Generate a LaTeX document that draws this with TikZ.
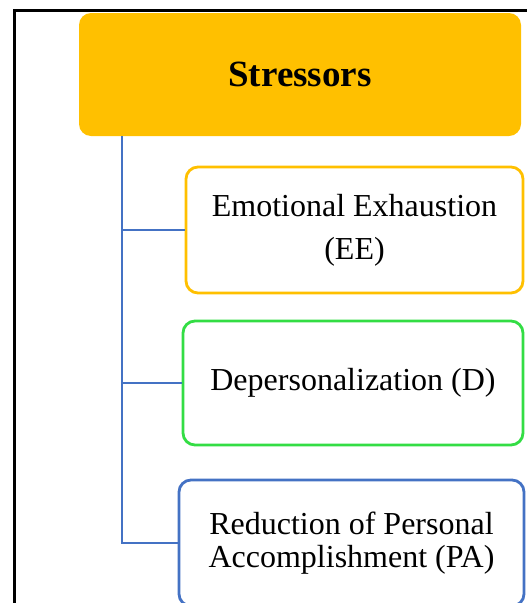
\documentclass[tikz,border=0pt]{standalone}
\usepackage{fontspec}
\setmainfont{Liberation Serif}
\usepackage{xcolor}
\definecolor{stressgold}{RGB}{255,192,0}
\definecolor{depgreen}{RGB}{51,221,68}
\definecolor{linkblue}{RGB}{68,114,196}

\begin{document}
\begin{tikzpicture}[x=1pt,y=1pt,yscale=-1,xscale=1,
  box/.style={draw, line width=2.8pt, rounded corners=12pt, fill=white, inner sep=0pt, align=center, font=\fontsize{32}{43}\selectfont},
  link/.style={draw=linkblue, line width=2.8pt}]
\useasboundingbox (0,0) rectangle (527,603);
\clip (0,0) rectangle (527,603);

%Straight Lines: frame
\draw [line width=3pt]  (14.5,603) -- (14.5,10.5) -- (527,10.5) ;

%Shape: Rounded Rectangle
\node [box, draw=none, fill=stressgold, minimum width=442pt, minimum height=123pt, font=\bfseries\fontsize{37}{44}\selectfont] (stressors) at (300,74.5) {Stressors};
%Shape: Rounded Rectangle
\node [box, draw=stressgold, minimum width=337pt, minimum height=126pt] (ee) at (354.5,230) {Emotional Exhaustion\\(EE)};
%Shape: Rounded Rectangle
\node [box, draw=depgreen, minimum width=340pt, minimum height=124pt] (dp) at (353,383) {Depersonalization (D)};
%Shape: Rounded Rectangle
\node [box, draw=linkblue, minimum width=345pt, minimum height=126pt, font=\fontsize{32}{33}\selectfont] (pa) at (351.5,543) {Reduction of Personal\\Accomplishment (PA)};

%Straight Lines: tree
\coordinate (trunk) at (122,136);
\draw [link]  (trunk) |- (pa.west) ;
\draw [link]  (trunk |- ee.west) -- (ee.west) ;
\draw [link]  (trunk |- dp.west) -- (dp.west) ;

\end{tikzpicture}
\end{document}
